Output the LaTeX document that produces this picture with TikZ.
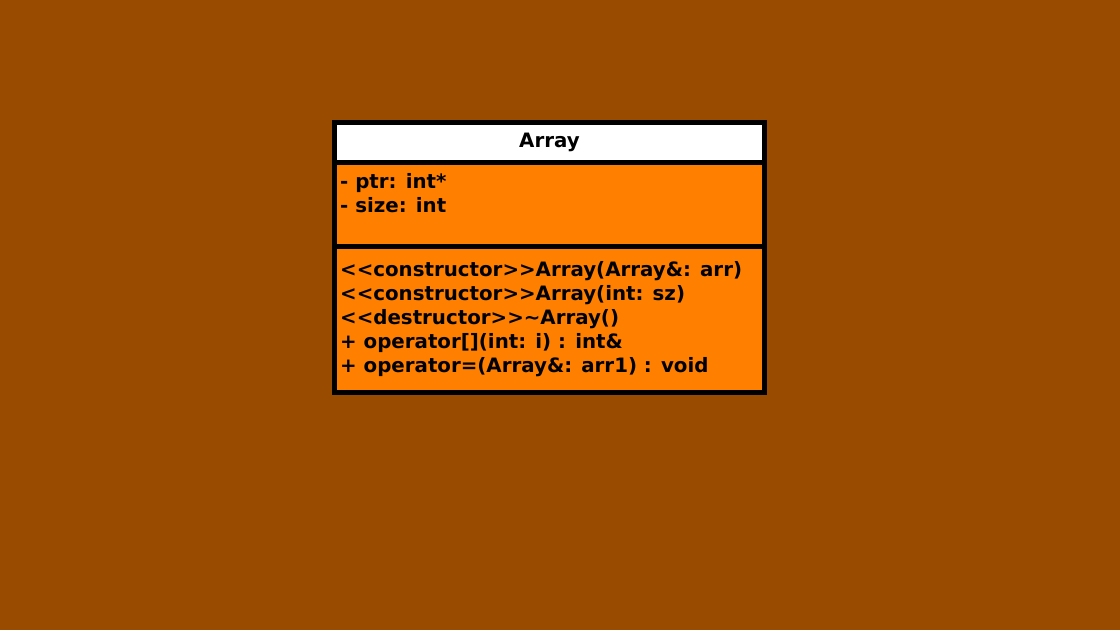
\documentclass[tikz,border=0pt]{standalone}
\usepackage{fontspec}
\setmainfont{DejaVu Sans}
\pgfdeclarelayer{edgelayer}
\pgfdeclarelayer{nodelayer}
\pgfsetlayers{edgelayer,nodelayer,main}
\definecolor{umlbrown}{RGB}{153,76,0}
\definecolor{umlorange}{RGB}{255,128,0}
\tikzset{font=\fontsize{19.8}{24}\selectfont\bfseries}
\tikzstyle{part}=[rectangle,draw=black,line width=4.5pt,fill=umlorange,minimum width=430pt,inner sep=0pt]
\tikzstyle{title}=[part,fill=white,minimum height=40pt]
\tikzstyle{member}=[anchor=base west,inner sep=0pt]

\begin{document}
\begin{tikzpicture}[x=1pt,y=-1pt]
	\useasboundingbox (0, 0) rectangle (1120, 630);
	\begin{pgfonlayer}{edgelayer}
		\fill [umlbrown] (0, 0) rectangle (1120, 630);
		\node [style=title] (head) at (549.5, 142.5) {Array};
		\node [style=part, minimum height=84pt] (attrs) at (549.5, 204.5) {};
		\node [style=part, minimum height=146pt] (ops) at (549.5, 319.5) {};
	\end{pgfonlayer}
	\begin{pgfonlayer}{nodelayer}
		\node [style=member] (attr1) at (340, 188) {- ptr: int*};
		\node [style=member] (attr2) at (340, 212) {- size: int};
		\node [style=member] (op1) at (340, 276) {<{}<constructor>{}>Array(Array\&: arr)};
		\node [style=member] (op2) at (340, 300) {<{}<constructor>{}>Array(int: sz)};
		\node [style=member] (op3) at (340, 324) {<{}<destructor>{}>\textasciitilde Array()};
		\node [style=member] (op4) at (340, 348) {+ operator[](int: i) : int\&};
		\node [style=member] (op5) at (340, 372) {+ operator=(Array\&: arr1) : void};
	\end{pgfonlayer}
\end{tikzpicture}
\end{document}
